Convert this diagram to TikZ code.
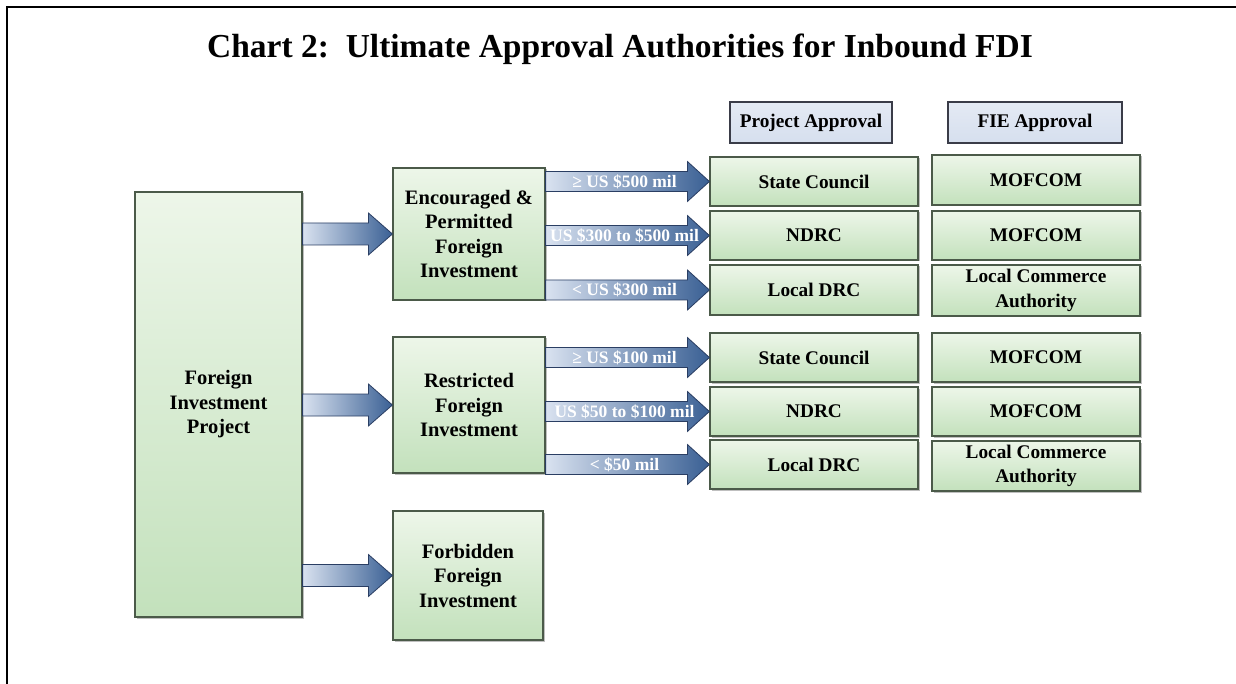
\documentclass[tikz,border=0pt]{standalone}
\usepackage{fontspec}
\setmainfont{Liberation Serif}
\usetikzlibrary{calc,shadows}
\definecolor{gtop}{HTML}{EDF6E9}
\definecolor{gbot}{HTML}{C3E1BC}
\definecolor{gline}{HTML}{4B5A49}
\definecolor{htop}{HTML}{E4EAF4}
\definecolor{hbot}{HTML}{D6DFEE}
\definecolor{hline}{HTML}{3A3C48}
\definecolor{aleft}{HTML}{D9E2F0}
\definecolor{aright}{HTML}{3A6094}
\definecolor{aline}{HTML}{2A3E63}
\tikzset{
  greenbox/.style={draw=gline, line width=1.2pt, top color=gtop, bottom color=gbot,
    inner sep=0pt, align=center, font=\fontsize{19.3}{24.5}\selectfont\bfseries,
    drop shadow={shadow xshift=1.5pt, shadow yshift=-1.5pt, fill=black, opacity=0.25}},
  bigtext/.style={font=\fontsize{20.5}{24.5}\selectfont\bfseries},
  headbox/.style={draw=hline, line width=1.2pt, top color=htop, bottom color=hbot,
    inner sep=0pt, align=center, font=\fontsize{19.3}{24.5}\selectfont\bfseries,
    minimum height=41pt},
  fatarrow/.style={draw=aline, line width=0.8pt, left color=aleft, right color=aright},
  arrowlabel/.style={text=white, inner sep=0pt, font=\fontsize{17.5}{20}\selectfont\bfseries},
  titlestyle/.style={inner sep=0pt, font=\fontsize{33.5}{38}\selectfont\bfseries}
}
% #1 start, #2 end, #3 shaft half-height, #4 head half-height, #5 head length
\newcommand\fatarr[5]{%
  \path[fatarrow] let \p1=(#1), \p2=(#2) in
    (\x1,\y1+#3) -- (\x2-#5,\y1+#3) -- (\x2-#5,\y1+#4) -- (\x2,\y1)
    -- (\x2-#5,\y1-#4) -- (\x2-#5,\y1-#3) -- (\x1,\y1-#3) -- cycle;}
\begin{document}
\begin{tikzpicture}[x=1pt,y=-1pt]
\useasboundingbox (0,0) rectangle (1236,684);
\draw[line width=2pt] (7,684) -- (7,7) -- (1236,7);
\node[titlestyle] (title) at (620,49) {Chart 2:\ \ Ultimate Approval Authorities for Inbound FDI};

% left column
\node[greenbox, bigtext, minimum width=167pt, minimum height=425pt] (fip) at (218.5,404.5) {Foreign\\Investment\\Project};
\node[greenbox, bigtext, minimum width=152pt, minimum height=132pt] (enc) at (469,234) {Encouraged \&\\Permitted\\Foreign\\Investment};
\node[greenbox, bigtext, minimum width=152pt, minimum height=136pt] (res) at (469,405) {Restricted\\Foreign\\Investment};
\node[greenbox, bigtext, minimum width=150pt, minimum height=129pt] (forb) at (468,575.5) {Forbidden\\Foreign\\Investment};

% headers
\node[headbox, minimum width=162pt] (hpa) at (811,122.5) {Project Approval};
\node[headbox, minimum width=174pt] (hfie) at (1035,122.5) {FIE Approval};

% project approval
\node[greenbox, minimum width=208pt, minimum height=49pt] (pa1) at (814,181.5) {State Council};
\node[greenbox, minimum width=208pt, minimum height=49pt] (pa2) at (814,235.5) {NDRC};
\node[greenbox, minimum width=208pt, minimum height=50pt] (pa3) at (814,290) {Local DRC};
\node[greenbox, minimum width=208pt, minimum height=49pt] (pa4) at (814,357.5) {State Council};
\node[greenbox, minimum width=208pt, minimum height=49pt] (pa5) at (814,411.5) {NDRC};
\node[greenbox, minimum width=208pt, minimum height=49pt] (pa6) at (814,464.5) {Local DRC};

% FIE approval
\node[greenbox, minimum width=208pt, minimum height=50pt] (fie1) at (1036,180) {MOFCOM};
\node[greenbox, minimum width=208pt, minimum height=49pt] (fie2) at (1036,235.5) {MOFCOM};
\node[greenbox, minimum width=208pt, minimum height=51pt] (fie3) at (1036,290.5) {Local Commerce\\Authority};
\node[greenbox, minimum width=208pt, minimum height=49pt] (fie4) at (1036,357.5) {MOFCOM};
\node[greenbox, minimum width=208pt, minimum height=49pt] (fie5) at (1036,411.5) {MOFCOM};
\node[greenbox, minimum width=208pt, minimum height=50pt] (fie6) at (1036,466) {Local Commerce\\Authority};

% big arrows
\fatarr{fip.east |- enc.west}{enc.west}{11pt}{21pt}{24pt}
\fatarr{fip.east |- res.west}{res.west}{11pt}{21pt}{24pt}
\fatarr{fip.east |- forb.west}{forb.west}{11pt}{21pt}{24pt}

% small arrows
\foreach \s/\t/\l in {enc/pa1/{≥ US \$500 mil}, enc/pa2/{US \$300 to \$500 mil}, enc/pa3/{< US \$300 mil},
                      res/pa4/{≥ US \$100 mil}, res/pa5/{US \$50 to \$100 mil}, res/pa6/{< \$50 mil}}{
  \fatarr{\s.east |- \t.west}{\t.west}{10pt}{20pt}{22pt}
  \node[arrowlabel] at ($(\s.east |- \t.west)!0.5!(\t.west) + (-3,0)$) {\l};
}
\end{tikzpicture}
\end{document}
